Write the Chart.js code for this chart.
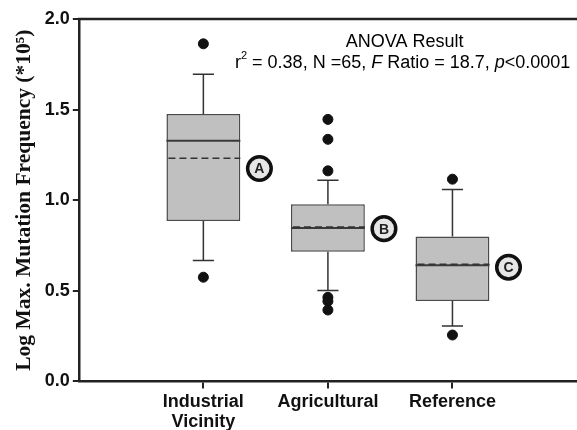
<!DOCTYPE html>
<html><head><meta charset="utf-8">
<script src="https://cdn.jsdelivr.net/npm/chart.js@4/dist/chart.umd.min.js"></script>
<style>html,body{margin:0;padding:0;background:#fff;overflow:hidden}canvas{display:block}</style>
</head><body><canvas id="c" width="577" height="430" style="width:577px;height:430px"></canvas>
<script>
// ---- data ----
const categories = [['Industrial','Vicinity'], ['Agricultural'], ['Reference']];
const catPos = [1, 2, 3];
const whiskerLow = [0.667, 0.501, 0.306];
const q1 = [0.885, 0.715, 0.444];
const median = [1.328, 0.846, 0.641];
const mean = [1.232, 0.852, 0.647];
const q3 = [1.476, 0.977, 0.800];
const whiskerHigh = [1.695, 1.110, 1.059];
const outliersIndustrial = [1.863, 0.575];
const outliersAgricultural = [1.446, 1.336, 1.162, 0.464, 0.442, 0.394];
const outliersReference = [1.116, 0.256];
const groupLetters = ['A', 'B', 'C'];
const letterLevel = [1.175, 0.843, 0.630];
const yTickValues = [0, 0.5, 1.0, 1.5, 2.0];
const yTitle = 'Log Max. Mutation Frequency (*10\u2075)';

const SANS = '"Liberation Sans", Arial, Helvetica, sans-serif';
const SERIF = '"Liberation Serif", "Times New Roman", serif';

const boxData = catPos.map((c, i) => ({x: c, y: [q1[i], q3[i]]}));
const outlierData = [];
[outliersIndustrial, outliersAgricultural, outliersReference].forEach((arr, i) => {
  arr.forEach(v => outlierData.push({x: catPos[i], y: v}));
});

const extras = {
  id: 'boxextras',
  afterDatasetsDraw(chart) {
    const {ctx, scales: {x, y}, chartArea: ca} = chart;
    const bars = chart.getDatasetMeta(0).data;
    ctx.save();
    catPos.forEach((c, i) => {
      const bar = bars[i];
      const cx = x.getPixelForValue(c);
      const l = bar.x - bar.width / 2, r = bar.x + bar.width / 2;
      const capL = x.getPixelForValue(c - 0.085), capR = x.getPixelForValue(c + 0.085);
      ctx.setLineDash([]);
      ctx.strokeStyle = '#333';
      ctx.lineWidth = 1.5;
      ctx.beginPath();
      const yq3 = y.getPixelForValue(q3[i]), yhi = y.getPixelForValue(whiskerHigh[i]);
      const yq1 = y.getPixelForValue(q1[i]), ylo = y.getPixelForValue(whiskerLow[i]);
      ctx.moveTo(cx, yq3); ctx.lineTo(cx, yhi);
      ctx.moveTo(capL, yhi); ctx.lineTo(capR, yhi);
      ctx.moveTo(cx, yq1); ctx.lineTo(cx, ylo);
      ctx.moveTo(capL, ylo); ctx.lineTo(capR, ylo);
      ctx.stroke();
      // median
      ctx.strokeStyle = '#3a3a3a';
      ctx.lineWidth = 2;
      ctx.beginPath();
      const ym = y.getPixelForValue(median[i]);
      ctx.moveTo(l, ym); ctx.lineTo(r, ym);
      ctx.stroke();
      // mean dashed
      ctx.setLineDash([7, 4]);
      ctx.lineWidth = 1.5;
      ctx.strokeStyle = '#333';
      ctx.beginPath();
      const ya = y.getPixelForValue(mean[i]);
      ctx.moveTo(l + 2, ya); ctx.lineTo(r, ya);
      ctx.stroke();
      ctx.setLineDash([]);
      // letter circle
      const lx = x.getPixelForValue(c + 0.45), ly = y.getPixelForValue(letterLevel[i]);
      ctx.beginPath();
      ctx.arc(lx, ly, 11.8, 0, Math.PI * 2);
      ctx.fillStyle = '#e6e6e6';
      ctx.fill();
      ctx.lineWidth = 3.5;
      ctx.strokeStyle = '#111';
      ctx.stroke();
      ctx.fillStyle = '#222';
      ctx.font = 'bold 14px ' + SANS;
      ctx.textAlign = 'center';
      ctx.textBaseline = 'middle';
      ctx.fillText(groupLetters[i], lx, ly + 1);
    });
    // top border
    ctx.strokeStyle = '#222';
    ctx.lineWidth = 2.5;
    ctx.beginPath();
    ctx.moveTo(ca.left - 1, ca.top);
    ctx.lineTo(chart.width, ca.top);
    ctx.stroke();
    // annotation
    const ax = x.getPixelForValue(2.6);
    ctx.fillStyle = '#000';
    ctx.textBaseline = 'middle';
    ctx.textAlign = 'center';
    ctx.font = '18px ' + SANS;
    ctx.fillText('ANOVA Result', ax + 2, y.getPixelForValue(1.871));
    const segs = [
      ['r', '18px ' + SANS, 0],
      ['2', '11px ' + SANS, -7],
      [' = 0.38, N =65, ', '18px ' + SANS, 0],
      ['F', 'italic 18px ' + SANS, 0],
      [' Ratio = 18.7, ', '18px ' + SANS, 0],
      ['p', 'italic 18px ' + SANS, 0],
      ['<0.0001', '18px ' + SANS, 0]
    ];
    let total = 0;
    segs.forEach(s => { ctx.font = s[1]; total += ctx.measureText(s[0]).width; });
    let sx = ax - total / 2;
    const sy = y.getPixelForValue(1.758);
    ctx.textAlign = 'left';
    segs.forEach(s => { ctx.font = s[1]; ctx.fillText(s[0], sx, sy + s[2]); sx += ctx.measureText(s[0]).width; });
    ctx.restore();
  }
};

new Chart(document.getElementById('c'), {
  type: 'bar',
  data: {
    datasets: [
      {
        type: 'bar',
        data: boxData,
        backgroundColor: '#c0c0c0',
        borderColor: '#4a4a4a',
        borderWidth: 1.5,
        borderSkipped: false,
        categoryPercentage: 1,
        barPercentage: 0.593,
        order: 2
      },
      {
        type: 'scatter',
        data: outlierData,
        backgroundColor: '#111',
        borderColor: '#111',
        pointRadius: 5,
        order: 1
      }
    ]
  },
  options: {
    responsive: false,
    maintainAspectRatio: false,
    animation: false,
    layout: {autoPadding: false, padding: {left: 12, top: 19, right: 0, bottom: -6}},
    plugins: {legend: {display: false}, tooltip: {enabled: false}},
    scales: {
      x: {
        type: 'linear',
        min: 0, max: 4,
        offset: false,
        afterBuildTicks: s => { s.ticks = catPos.map(v => ({value: v})); },
        afterFit: s => { s.paddingRight = 0; s.paddingLeft = 0; },
        grid: {offset: false, drawOnChartArea: false, drawTicks: true, tickLength: 7, color: '#222', lineWidth: 2},
        border: {display: true, color: '#222', width: 2.5},
        ticks: {
          color: '#111',
          font: {family: SANS, size: 18, weight: 'bold', lineHeight: 1.1},
          padding: 4,
          maxRotation: 0,
          autoSkip: false,
          callback: v => { const i = catPos.indexOf(v); return i >= 0 ? categories[i] : ''; }
        }
      },
      y: {
        type: 'linear',
        min: 0, max: 2,
        afterBuildTicks: s => { s.ticks = yTickValues.map(v => ({value: v})); },
        grid: {drawOnChartArea: false, drawTicks: true, tickLength: 6, color: '#222', lineWidth: 2},
        border: {display: true, color: '#222', width: 2.5},
        ticks: {
          color: '#111',
          font: {family: SANS, size: 18, weight: 'bold'},
          padding: 3,
          callback: v => Number(v).toFixed(1)
        },
        title: {
          display: true,
          text: yTitle,
          color: '#111',
          font: {family: SERIF, size: 21.5, weight: 'bold'},
          padding: {top: 0, bottom: 4}
        }
      }
    }
  },
  plugins: [extras]
});
</script>
</body></html>
